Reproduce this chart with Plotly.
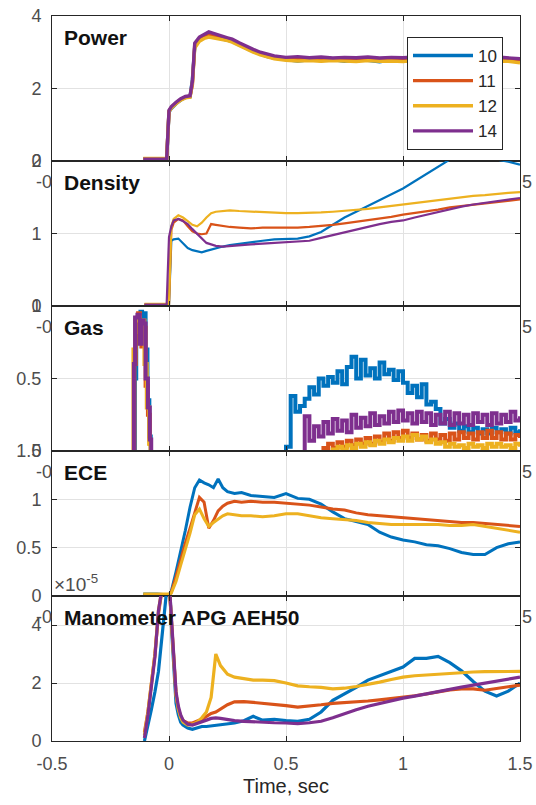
import plotly.graph_objects as go
from plotly.subplots import make_subplots

SHOTS = ["10", "11", "12", "14"]
COLORS = {"10": "#0072BD", "11": "#D95319", "12": "#EDB120", "14": "#7E2F8E"}
FONT = "Liberation Sans, Arial, Helvetica, sans-serif"
TICK_GRAY = "#4d4d4d"
AXIS_DARK = "#262626"

# ---------------- Power ----------------
power_t = [-0.11, -0.06, -0.01, 0.0, 0.01, 0.03, 0.05, 0.07, 0.09, 0.1, 0.11,
           0.13, 0.15, 0.17, 0.19, 0.21, 0.23, 0.25, 0.27, 0.3, 0.33, 0.36, 0.39,
           0.42, 0.45, 0.5, 0.55, 0.6, 0.65, 0.7, 0.75, 0.8, 0.85, 0.9, 0.95, 1.0,
           1.05, 1.1, 1.15, 1.2, 1.25, 1.3, 1.35, 1.4, 1.45, 1.5]
power_10 = [0.04, 0.05, 0.04, 1.35, 1.45, 1.58, 1.68, 1.75, 1.77, 2.25, 3.15,
            3.35, 3.42, 3.45, 3.42, 3.38, 3.36, 3.33, 3.3, 3.2, 3.1, 3.02, 2.95,
            2.88, 2.84, 2.8, 2.76, 2.79, 2.77, 2.8, 2.75, 2.79, 2.78, 2.74, 2.79,
            2.77, 2.8, 2.76, 2.79, 2.78, 2.74, 2.79, 2.77, 2.76, 2.78, 2.75]
power_11 = [0.06, 0.05, 0.06, 1.38, 1.48, 1.6, 1.7, 1.76, 1.79, 2.1, 3.2,
            3.38, 3.45, 3.48, 3.45, 3.41, 3.38, 3.35, 3.32, 3.22, 3.12, 3.04, 2.97,
            2.9, 2.86, 2.82, 2.8, 2.82, 2.79, 2.81, 2.8, 2.78, 2.81, 2.79, 2.8,
            2.82, 2.79, 2.81, 2.8, 2.78, 2.81, 2.8, 2.79, 2.81, 2.8, 2.76]
power_12 = [0.07, 0.06, 0.07, 1.36, 1.46, 1.58, 1.68, 1.74, 1.76, 2.15, 3.12,
            3.3, 3.38, 3.42, 3.4, 3.37, 3.35, 3.32, 3.28, 3.18, 3.08, 3.0, 2.93,
            2.87, 2.82, 2.78, 2.76, 2.77, 2.75, 2.77, 2.76, 2.74, 2.77, 2.75, 2.76,
            2.74, 2.77, 2.75, 2.76, 2.74, 2.75, 2.77, 2.74, 2.76, 2.75, 2.71]
power_14 = [0.05, 0.06, 0.05, 1.4, 1.5, 1.62, 1.72, 1.78, 1.8, 2.2, 3.25,
            3.42, 3.5, 3.56, 3.52, 3.47, 3.44, 3.4, 3.36, 3.26, 3.16, 3.08, 3.0,
            2.94, 2.9, 2.86, 2.88, 2.85, 2.87, 2.84, 2.86, 2.85, 2.87, 2.84, 2.86,
            2.85, 2.87, 2.84, 2.86, 2.85, 2.84, 2.86, 2.85, 2.87, 2.85, 2.82]

# ---------------- Density ----------------
dens_t = [-0.105, -0.06, -0.01, 0.0, 0.01, 0.02, 0.04, 0.06, 0.08, 0.1, 0.12,
          0.14, 0.16, 0.18, 0.2, 0.23, 0.26, 0.3, 0.35, 0.4, 0.45, 0.5, 0.55,
          0.6, 0.65, 0.7, 0.75, 0.8, 0.85, 0.9, 0.95, 1.0, 1.05, 1.1, 1.15, 1.2,
          1.25, 1.3, 1.35, 1.4, 1.45, 1.5]
dens_10 = [0.02, 0.02, 0.02, 0.02, 0.9, 0.92, 0.93, 0.87, 0.8, 0.77, 0.75,
           0.74, 0.76, 0.78, 0.8, 0.82, 0.84, 0.86, 0.88, 0.9, 0.92, 0.92, 0.93,
           0.96, 1.02, 1.12, 1.22, 1.3, 1.38, 1.46, 1.54, 1.62, 1.72, 1.82, 1.92,
           2.02, 2.08, 2.1, 2.08, 2.02, 1.99, 1.95]
dens_11 = [0.02, 0.02, 0.02, 0.02, 1.05, 1.15, 1.2, 1.18, 1.1, 1.03, 1.0,
           0.99, 1.0, 1.13, 1.12, 1.1, 1.09, 1.08, 1.07, 1.08, 1.08, 1.07, 1.08,
           1.09, 1.1, 1.12, 1.14, 1.16, 1.19, 1.21, 1.23, 1.26, 1.28, 1.31, 1.33,
           1.36, 1.38, 1.4, 1.42, 1.44, 1.46, 1.47]
dens_12 = [0.03, 0.03, 0.03, 0.03, 1.1, 1.2, 1.25, 1.22, 1.17, 1.12, 1.1,
           1.15, 1.22, 1.28, 1.3, 1.31, 1.32, 1.31, 1.3, 1.29, 1.29, 1.28, 1.28,
           1.28, 1.29, 1.3, 1.31, 1.32, 1.34, 1.36, 1.38, 1.4, 1.43, 1.45, 1.47,
           1.49, 1.5, 1.52, 1.53, 1.55, 1.56, 1.57]
dens_14 = [0.02, 0.02, 0.02, 0.95, 1.1, 1.18, 1.2, 1.17, 1.13, 1.06, 1.0,
           0.93, 0.87, 0.85, 0.83, 0.82, 0.83, 0.84, 0.85, 0.86, 0.87, 0.88, 0.88,
           0.9, 0.94, 0.98, 1.02, 1.06, 1.1, 1.13, 1.16, 1.18, 1.22, 1.26, 1.3,
           1.34, 1.37, 1.4, 1.42, 1.44, 1.46, 1.49]

# ---------------- Gas (puff before breakdown, then late gas signal) ----------------
gas_puff_t_10 = [-0.16, -0.146, -0.14, -0.13, -0.122, -0.115, -0.108, -0.1, -0.092, -0.084, -0.078]
gas_puff_10 = [-0.03, 0.5, 0.9, 0.93, 0.96, 0.92, 0.95, 0.7, 0.35, 0.1, -0.03]
gas_puff_t_11 = [-0.16, -0.148, -0.142, -0.132, -0.124, -0.118, -0.11, -0.1, -0.09, -0.082, -0.077]
gas_puff_11 = [-0.03, 0.6, 0.9, 0.95, 0.8, 0.72, 0.85, 0.45, 0.25, 0.05, -0.03]
gas_puff_t_12 = [-0.16, -0.152, -0.145, -0.135, -0.125, -0.115, -0.105, -0.095, -0.085, -0.079]
gas_puff_12 = [-0.03, 0.7, 0.9, 0.92, 0.82, 0.9, 0.6, 0.3, 0.05, -0.03]
gas_puff_t_14 = [-0.16, -0.15, -0.145, -0.135, -0.125, -0.118, -0.108, -0.1, -0.09, -0.082, -0.076]
gas_puff_14 = [-0.03, 0.6, 0.92, 0.94, 0.74, 0.9, 0.88, 0.5, 0.3, 0.08, -0.03]

gas_tail_t = [0.48, 0.50, 0.52, 0.54, 0.56, 0.58, 0.60, 0.62, 0.64, 0.66, 0.68,
              0.70, 0.72, 0.74, 0.76, 0.78, 0.80, 0.82, 0.84, 0.86, 0.88, 0.90,
              0.92, 0.94, 0.96, 0.98, 1.00, 1.02, 1.04, 1.06, 1.08, 1.10, 1.12,
              1.14, 1.16, 1.18, 1.20, 1.22, 1.24, 1.26, 1.28, 1.30, 1.32, 1.34,
              1.36, 1.38, 1.40, 1.42, 1.44, 1.46, 1.48, 1.50]
gas_tail_10 = [-0.03, 0.03, 0.38, 0.27, 0.31, 0.36, 0.44, 0.39, 0.5, 0.45, 0.51,
               0.47, 0.55, 0.46, 0.58, 0.65, 0.5, 0.63, 0.52, 0.57, 0.5, 0.61,
               0.53, 0.56, 0.49, 0.55, 0.47, 0.4, 0.45, 0.37, 0.46, 0.32, 0.34,
               0.29, 0.19, 0.22, 0.16, 0.19, 0.14, 0.17, 0.13, 0.16, 0.12, 0.15,
               0.12, 0.16, 0.13, 0.15, 0.12, 0.16, 0.13, 0.15]
gas_tail_11 = [-0.03, -0.03, -0.03, -0.03, -0.03, -0.03, -0.03, -0.03, -0.03, 0.02, 0.05,
               0.02, 0.06, 0.03, 0.07, 0.04, 0.08, 0.05, 0.09, 0.05, 0.1, 0.06,
               0.12, 0.07, 0.13, 0.09, 0.14, 0.09, 0.12, 0.08, 0.11, 0.07, 0.12,
               0.08, 0.11, 0.07, 0.12, 0.08, 0.13, 0.09, 0.12, 0.08, 0.13, 0.09,
               0.14, 0.09, 0.13, 0.08, 0.12, 0.08, 0.11, 0.09]
gas_tail_12 = [-0.03, -0.03, -0.03, -0.03, -0.03, -0.03, -0.03, -0.03, -0.03, -0.03, -0.03,
               0.01, 0.03, 0.01, 0.04, 0.02, 0.05, 0.03, 0.06, 0.04, 0.07, 0.05,
               0.08, 0.06, 0.09, 0.07, 0.1, 0.07, 0.11, 0.08, 0.1, 0.06, 0.08,
               0.05, 0.06, 0.03, 0.05, 0.03, 0.04, 0.02, 0.05, 0.03, 0.04, 0.02,
               0.05, 0.03, 0.05, 0.03, 0.04, 0.02, 0.05, 0.03]
gas_tail_14 = [-0.03, -0.03, -0.03, -0.03, -0.03, 0.24, 0.07, 0.17, 0.1, 0.2, 0.12,
               0.22, 0.14, 0.21, 0.13, 0.25, 0.16, 0.23, 0.17, 0.26, 0.18, 0.24,
               0.19, 0.27, 0.2, 0.28, 0.21, 0.26, 0.19, 0.27, 0.2, 0.26, 0.18,
               0.25, 0.19, 0.27, 0.18, 0.26, 0.19, 0.25, 0.18, 0.26, 0.2, 0.25,
               0.18, 0.26, 0.19, 0.25, 0.2, 0.27, 0.21, 0.24]

# ---------------- ECE (no channel for shot 14) ----------------
ece_t = [-0.11, -0.05, 0.0, 0.01, 0.03, 0.05, 0.07, 0.09, 0.11, 0.13, 0.15,
         0.17, 0.19, 0.21, 0.23, 0.25, 0.28, 0.31, 0.35, 0.4, 0.45, 0.5, 0.55,
         0.6, 0.65, 0.7, 0.75, 0.8, 0.85, 0.9, 0.95, 1.0, 1.05, 1.1, 1.15, 1.2,
         1.25, 1.3, 1.35, 1.4, 1.45, 1.5]
ece_10 = [0.02, 0.02, 0.01, 0.05, 0.25, 0.45, 0.68, 0.92, 1.12, 1.2, 1.17,
          1.15, 1.12, 1.21, 1.12, 1.08, 1.06, 1.07, 1.04, 1.03, 1.02, 1.06, 1.01,
          1.0, 0.95, 0.87, 0.8, 0.77, 0.74, 0.66, 0.61, 0.58, 0.56, 0.53, 0.52,
          0.49, 0.45, 0.43, 0.43, 0.5, 0.54, 0.56]
ece_11 = [0.0, 0.01, 0.0, 0.04, 0.2, 0.38, 0.55, 0.7, 0.85, 1.02, 0.97,
          0.7, 0.78, 0.88, 0.93, 0.96, 0.98, 0.97, 0.98, 0.97, 0.97, 0.96, 0.95,
          0.94, 0.92, 0.9, 0.89, 0.86, 0.84, 0.83, 0.82, 0.81, 0.8, 0.79, 0.78,
          0.77, 0.76, 0.76, 0.75, 0.74, 0.73, 0.72]
ece_12 = [0.02, 0.02, 0.02, 0.03, 0.15, 0.32, 0.48, 0.65, 0.84, 0.9, 0.8,
          0.72, 0.76, 0.8, 0.83, 0.85, 0.84, 0.83, 0.83, 0.82, 0.83, 0.85, 0.85,
          0.83, 0.81, 0.8, 0.79, 0.78, 0.76, 0.75, 0.74, 0.74, 0.74, 0.74, 0.74,
          0.73, 0.73, 0.74, 0.72, 0.7, 0.68, 0.66]

# ---------------- Manometer APG AEH50 (units of 1e-5) ----------------
mano_t = [-0.105, -0.09, -0.075, -0.06, -0.045, -0.03, -0.015, 0.0, 0.01, 0.02,
          0.03, 0.04, 0.05, 0.06, 0.08, 0.1, 0.12, 0.14, 0.16, 0.18, 0.2, 0.22,
          0.25, 0.28, 0.32, 0.36, 0.4, 0.45, 0.5, 0.55, 0.6, 0.65, 0.7, 0.75,
          0.8, 0.85, 0.9, 0.95, 1.0, 1.05, 1.1, 1.15, 1.2, 1.25, 1.3, 1.35, 1.4,
          1.45, 1.5]
mano_10 = [0.0, 0.5, 1.1, 1.7, 2.4, 3.6, 5.0, 6.0, 4.0, 2.4,
           1.3, 0.9, 0.65, 0.55, 0.45, 0.4, 0.45, 0.5, 0.5, 0.52, 0.55, 0.58,
           0.6, 0.62, 0.7, 0.85, 0.72, 0.75, 0.7, 0.68, 0.75, 1.0, 1.4, 1.62,
           1.85, 2.1, 2.25, 2.4, 2.55, 2.85, 2.85, 2.92, 2.7, 2.42, 2.05, 1.72, 1.55,
           1.72, 2.0]
mano_11 = [0.3, 1.0, 2.0, 3.0, 4.4, 5.5, 6.0, 5.5, 4.3, 2.7,
           1.6, 1.1, 0.85, 0.7, 0.62, 0.62, 0.68, 0.75, 0.85, 0.95, 1.0, 1.1,
           1.25, 1.35, 1.36, 1.33, 1.3, 1.28, 1.22, 1.17, 1.2, 1.25, 1.3, 1.32,
           1.35, 1.38, 1.42, 1.46, 1.5, 1.56, 1.62, 1.7, 1.76, 1.8, 1.8, 1.75, 1.8,
           1.87, 1.93]
mano_12 = [0.2, 1.0, 2.0, 3.0, 4.5, 5.6, 6.0, 5.5, 4.2, 2.6,
           1.6, 1.1, 0.8, 0.65, 0.55, 0.58, 0.65, 0.8, 1.0, 1.5, 3.0, 2.6,
           2.3, 2.2, 2.15, 2.1, 2.1, 2.08, 2.0, 1.9, 1.87, 1.85, 1.8, 1.82,
           1.88, 1.95, 2.03, 2.12, 2.2, 2.25, 2.28, 2.3, 2.33, 2.36, 2.38, 2.39, 2.4,
           2.4, 2.4]
mano_14 = [0.1, 0.9, 1.9, 2.9, 4.5, 5.6, 6.0, 5.6, 4.4, 2.8,
           1.7, 1.2, 0.9, 0.72, 0.58, 0.55, 0.6, 0.65, 0.72, 0.78, 0.8, 0.78,
           0.74, 0.7, 0.68, 0.66, 0.65, 0.63, 0.62, 0.6, 0.63, 0.68, 0.8, 0.95,
           1.08, 1.2, 1.3, 1.38, 1.48, 1.55, 1.62, 1.7, 1.78, 1.86, 1.93, 2.0, 2.08,
           2.15, 2.2]

x_ticks = [-0.5, 0, 0.5, 1, 1.5]
x_tick_text = ["-0.5", "0", "0.5", "1", "1.5"]

panels = [
    dict(title="Power", shape="linear", width=3.4, yrange=[0, 4], yticks=[0, 2, 4],
         ytext=["0", "2", "4"],
         t={s: power_t for s in SHOTS},
         y={"10": power_10, "11": power_11, "12": power_12, "14": power_14}),
    dict(title="Density", shape="linear", width=2.2, yrange=[0, 2], yticks=[0, 1, 2],
         ytext=["0", "1", "2"],
         t={s: dens_t for s in SHOTS},
         y={"10": dens_10, "11": dens_11, "12": dens_12, "14": dens_14}),
    dict(title="Gas", shape="hv", width=4.0, yrange=[0, 1], yticks=[0, 0.5, 1],
         ytext=["0", "0.5", "1"],
         t={"10": gas_puff_t_10 + gas_tail_t, "11": gas_puff_t_11 + gas_tail_t,
            "12": gas_puff_t_12 + gas_tail_t, "14": gas_puff_t_14 + gas_tail_t},
         y={"10": gas_puff_10 + gas_tail_10, "11": gas_puff_11 + gas_tail_11,
            "12": gas_puff_12 + gas_tail_12, "14": gas_puff_14 + gas_tail_14}),
    dict(title="ECE", shape="linear", width=3.0, yrange=[0, 1.5], yticks=[0, 0.5, 1, 1.5],
         ytext=["0", "0.5", "1", "1.5"],
         t={s: ece_t for s in ["10", "11", "12"]},
         y={"10": ece_10, "11": ece_11, "12": ece_12}),
    dict(title="Manometer APG AEH50", shape="linear", width=3.2, yrange=[0, 5],
         yticks=[0, 2, 4], ytext=["0", "2", "4"],
         t={s: mano_t for s in SHOTS},
         y={"10": mano_10, "11": mano_11, "12": mano_12, "14": mano_14}),
]

n = len(panels)
fig = make_subplots(rows=n, cols=1, vertical_spacing=0)

for r, p in enumerate(panels, start=1):
    for s in SHOTS:
        if s not in p["y"]:
            continue
        fig.add_trace(
            go.Scatter(
                x=p["t"][s], y=p["y"][s], mode="lines", name=s, legendgroup=s,
                showlegend=(r == 1),
                line=dict(color=COLORS[s], width=p["width"], shape=p["shape"]),
            ),
            row=r, col=1,
        )
    fig.update_yaxes(
        row=r, col=1, range=p["yrange"], tickvals=p["yticks"], ticktext=p["ytext"],
        showline=True, linecolor=AXIS_DARK, linewidth=1, mirror="ticks",
        ticks="inside", ticklen=5, tickcolor=AXIS_DARK,
        showgrid=True, gridcolor="#e2e2e2", zeroline=False,
        tickfont=dict(family=FONT, size=18, color=TICK_GRAY), ticklabelstandoff=6,
    )
    fig.update_xaxes(
        row=r, col=1, range=[-0.5, 1.5], tickvals=x_ticks, ticktext=x_tick_text,
        showline=True, linecolor=AXIS_DARK, linewidth=1, mirror="ticks",
        ticks="inside", ticklen=5, tickcolor=AXIS_DARK,
        showgrid=True, gridcolor="#e2e2e2", zeroline=False,
        showticklabels=(r == n),
        tickfont=dict(family=FONT, size=18, color=TICK_GRAY), ticklabelstandoff=6,
    )
    xref = "x domain" if r == 1 else f"x{r} domain"
    yref = "y domain" if r == 1 else f"y{r} domain"
    # panel title inside the upper-left corner
    fig.add_annotation(
        text=f"<b>{p['title']}</b>", xref=xref, yref=yref, x=0.022, y=0.85,
        xanchor="left", yanchor="middle", showarrow=False,
        font=dict(family=FONT, size=21, color="#111111"),
    )
    # ends of the stacked axes' hidden time labels peeking out at the sides
    if r < n:
        fig.add_annotation(
            text="-0", xref=xref, yref=yref, x=0, y=-0.145, xanchor="right",
            yanchor="middle", showarrow=False, xshift=2,
            font=dict(family=FONT, size=18, color=TICK_GRAY),
        )
        fig.add_annotation(
            text="5", xref=xref, yref=yref, x=1, y=-0.145, xanchor="left",
            yanchor="middle", showarrow=False, xshift=0,
            font=dict(family=FONT, size=18, color=TICK_GRAY),
        )

# exponent of the manometer axis
fig.add_annotation(
    text="\u00d710<sup>-5</sup>", xref=f"x{n} domain", yref=f"y{n} domain",
    x=0, y=1, xanchor="left", yanchor="bottom", showarrow=False, yshift=-1,
    font=dict(family=FONT, size=19, color=TICK_GRAY),
)

fig.update_xaxes(
    row=n, col=1, title=dict(text="Time, sec", standoff=6,
                             font=dict(family=FONT, size=20, color=AXIS_DARK)),
)

fig.update_layout(
    width=536, height=805,
    margin=dict(l=52, r=16, t=16, b=64, autoexpand=False),
    paper_bgcolor="white", plot_bgcolor="white",
    font=dict(family=FONT, color=AXIS_DARK),
    showlegend=True,
    legend=dict(
        x=(407 - 52) / 468, y=(741 - 37) / 725, xanchor="left", yanchor="top",
        bgcolor="white", bordercolor=AXIS_DARK, borderwidth=1,
        font=dict(family=FONT, size=17, color=AXIS_DARK),
        itemwidth=60, tracegroupgap=0,
    ),
)

fig.write_html("out.html")
